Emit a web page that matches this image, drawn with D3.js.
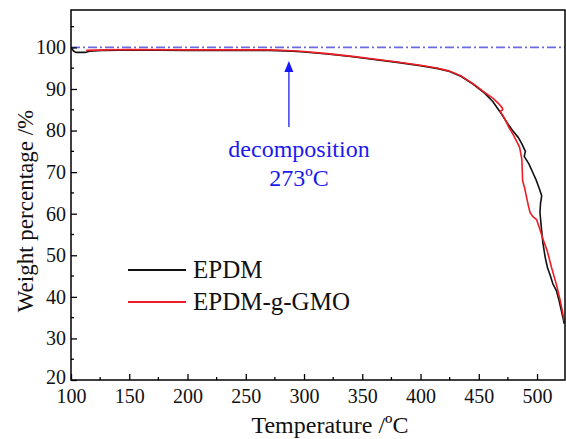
<!DOCTYPE html>
<html>
<head>
<meta charset="utf-8">
<script src="https://cdn.jsdelivr.net/npm/d3@7"></script>
<style>
  html, body { margin: 0; padding: 0; background: #fff; }
  svg { display: block; }
  text { font-family: "Liberation Serif", "Times New Roman", serif; }
</style>
</head>
<body>
<svg id="chart" width="566" height="439"></svg>
<script>
// ---- data ----
const xTicks = [100, 150, 200, 250, 300, 350, 400, 450, 500];
const yTicks = [20, 30, 40, 50, 60, 70, 80, 90, 100];

const epdmTemp = [100, 102, 104, 112, 116, 130, 150, 200, 250, 270, 290, 300, 320, 340, 360, 380, 400, 415, 425, 435, 445, 455, 462, 468, 474, 479, 484, 487, 490, 489, 493, 497, 499.4, 502, 504, 503, 502.5, 503.7, 505, 507, 509, 511.5, 513.5, 516.6, 519, 521, 523.4];
const epdmWeight = [100, 99.2, 98.8, 98.8, 99.1, 99.3, 99.4, 99.3, 99.3, 99.3, 99.1, 98.9, 98.4, 97.8, 97.1, 96.4, 95.6, 94.9, 94.2, 93.0, 91.2, 89.0, 87.0, 84.6, 82.0, 80.0, 78.3, 76.8, 75.0, 73.8, 72.0, 69.5, 68, 66.0, 64.3, 62.5, 60.3, 56.7, 53, 49.5, 47, 45, 43.2, 41.5, 39, 36.5, 33.5];

const gmoTemp = [113, 130, 150, 200, 250, 270, 290, 300, 320, 340, 360, 380, 400, 415, 425, 435, 445, 455, 462, 467, 470.3, 470.5, 468.5, 472, 476, 480, 485, 487, 487.3, 487.6, 489.5, 491, 492.5, 494, 496.5, 499.6, 502, 505, 508.8, 512.5, 516.6, 520, 523.4];
const gmoWeight = [99.3, 99.4, 99.5, 99.4, 99.4, 99.4, 99.2, 99.0, 98.5, 97.9, 97.2, 96.5, 95.7, 95.0, 94.3, 93.1, 91.3, 89.2, 87.8, 86.5, 85.4, 85.0, 84.6, 83.0, 80.7, 78.8, 76.0, 73.0, 70.5, 68, 66, 64, 62, 60.3, 59.3, 58.6, 56.6, 54, 51, 47, 43, 39, 34.2];

const seriesNames = ["EPDM", "EPDM-g-GMO"];
const refLevel = 100;
const decompTemp = 287;
const annotationLines = ["decomposition", "273ºC"];
const xTitle = "Temperature /ºC";
const yTitle = "Weight percentage /%";

// ---- chart ----
const svg = d3.select("#chart");
const L = 71, R = 565, T = 10, B = 380;
const x = d3.scaleLinear().domain([100, 524]).range([L, R]);
const y = d3.scaleLinear().domain([20, 109]).range([B, T]);

const line = d3.line().x(d => x(d[0])).y(d => y(d[1]));
const epdm = epdmTemp.map((t, i) => [t, epdmWeight[i]]);
const gmo = gmoTemp.map((t, i) => [t, gmoWeight[i]]);

svg.append("clipPath").attr("id", "clip")
  .append("rect").attr("x", L).attr("y", T).attr("width", R - L).attr("height", B - T);
const plot = svg.append("g").attr("clip-path", "url(#clip)");

// reference dash-dot line
plot.append("line")
  .attr("x1", x(100)).attr("x2", x(524))
  .attr("y1", y(refLevel)).attr("y2", y(refLevel))
  .attr("stroke", "#6b6be0").attr("stroke-width", 1.6)
  .attr("stroke-dasharray", "9,3,2,3");

plot.append("path").datum(epdm).attr("d", line)
  .attr("fill", "none").attr("stroke", "#111").attr("stroke-width", 1.6)
  .attr("stroke-linejoin", "round");
plot.append("path").datum(gmo).attr("d", line)
  .attr("fill", "none").attr("stroke", "#ee1c24").attr("stroke-width", 1.6)
  .attr("stroke-linejoin", "round");

// frame
svg.append("rect").attr("x", L).attr("y", T).attr("width", R - L).attr("height", B - T)
  .attr("fill", "none").attr("stroke", "#000").attr("stroke-width", 1.5);

// x axis
const xAxis = d3.axisBottom(x).tickValues(xTicks).tickSize(-6).tickPadding(10);
const gx = svg.append("g").attr("transform", `translate(0,${B})`).call(xAxis);
gx.select(".domain").remove();
gx.selectAll(".tick line").attr("stroke", "#000").attr("stroke-width", 1.3);
gx.selectAll(".tick text").attr("font-size", 20).attr("fill", "#111")
  .attr("font-family", "Liberation Serif").attr("dy", "0.66em");
const xMinor = d3.range(125, 524, 50);
svg.append("g").selectAll("line").data(xMinor).join("line")
  .attr("x1", d => x(d)).attr("x2", d => x(d)).attr("y1", B).attr("y2", B - 3)
  .attr("stroke", "#000").attr("stroke-width", 1.3);

// y axis
const yAxis = d3.axisLeft(y).tickValues(yTicks).tickSize(-6).tickPadding(5);
const gy = svg.append("g").attr("transform", `translate(${L},0)`).call(yAxis);
gy.select(".domain").remove();
gy.selectAll(".tick line").attr("stroke", "#000").attr("stroke-width", 1.3);
gy.selectAll(".tick text").attr("font-size", 20).attr("fill", "#111")
  .attr("font-family", "Liberation Serif")
  .attr("dy", d => d === 20 ? "0.15em" : "0.32em");
const yMinor = d3.range(25, 109, 10);
svg.append("g").selectAll("line").data(yMinor).join("line")
  .attr("x1", L).attr("x2", L + 3).attr("y1", d => y(d)).attr("y2", d => y(d))
  .attr("stroke", "#000").attr("stroke-width", 1.3);

// titles
svg.append("text").attr("x", 330).attr("y", 433).attr("text-anchor", "middle")
  .attr("font-size", 24).attr("fill", "#111").text(xTitle);
svg.append("text").attr("transform", "translate(33,211) rotate(-90)")
  .attr("text-anchor", "middle").attr("font-size", 23).attr("fill", "#111").text(yTitle);

// arrow annotation
const ax = x(decompTemp);
svg.append("line").attr("x1", ax).attr("x2", ax).attr("y1", 127).attr("y2", 68)
  .attr("stroke", "#5a5aee").attr("stroke-width", 1.8);
svg.append("path")
  .attr("d", `M${ax},${61} L${ax - 4.5},${72} L${ax + 4.5},${72} Z`)
  .attr("fill", "#1818ff");
annotationLines.forEach((s, i) => {
  svg.append("text").attr("x", 299).attr("y", 157 + i * 29).attr("text-anchor", "middle")
    .attr("font-size", 24).attr("fill", "#1a1aee").text(s);
});

// legend
const legColors = ["#111", "#ee1c24"];
seriesNames.forEach((n, i) => {
  const ly = 270 + i * 32;
  svg.append("line").attr("x1", 128).attr("x2", 186).attr("y1", ly).attr("y2", ly)
    .attr("stroke", legColors[i]).attr("stroke-width", 1.8);
  svg.append("text").attr("x", 193).attr("y", ly + 8).attr("font-size", 25)
    .attr("fill", "#111").text(n);
});
</script>
</body>
</html>
